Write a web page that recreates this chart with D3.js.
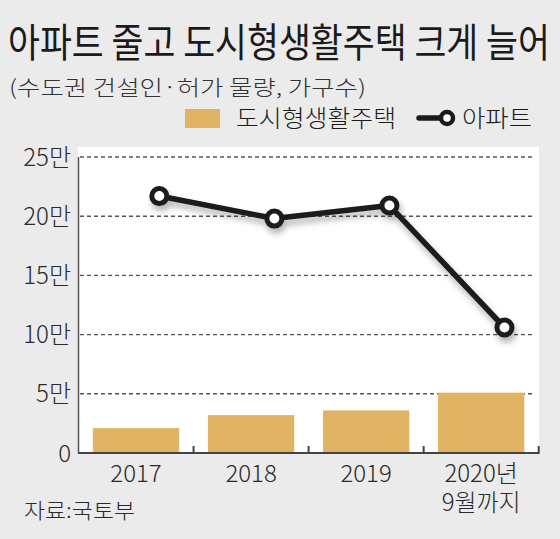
<!DOCTYPE html>
<html>
<head>
<meta charset="utf-8">
<script src="https://cdn.jsdelivr.net/npm/d3@7"></script>
<style>
  html, body { margin: 0; padding: 0; background: #ebebeb; }
  svg { display: block; font-family: "Noto Sans CJK KR", "Noto Sans", sans-serif; }
</style>
</head>
<body>
<script>
// values in 만 가구 (10,000 units)
var categories = ["2017", "2018", "2019", "2020"];
var categoryLabels = [["2017"], ["2018"], ["2019"], ["2020년", "9월까지"]];
var urbanHousing = [2.1, 3.2, 3.6, 5.1];   // 도시형생활주택 (bars)
var apartments = [21.7, 19.8, 20.9, 10.6]; // 아파트 (line)
var yTicks = [0, 5, 10, 15, 20, 25];
var yTickLabels = ["0", "5만", "10만", "15만", "20만", "25만"];

var width = 560, height = 539;
var barColor = "#e0b464", ink = "#1c1a1a";

var svg = d3.select("body").append("svg")
    .attr("width", width)
    .attr("height", height);

var defs = svg.append("defs");
var shadow = defs.append("filter")
    .attr("id", "shadow")
    .attr("x", "-20%").attr("y", "-20%")
    .attr("width", "140%").attr("height", "160%");
shadow.append("feDropShadow")
    .attr("dx", 2).attr("dy", 5)
    .attr("stdDeviation", 3)
    .attr("flood-color", "#000")
    .attr("flood-opacity", 0.3);

// title + subtitle (font is condensed in the original, so squeeze horizontally)
svg.append("text")
    .attr("transform", "translate(8,57) scale(0.81,1)")
    .attr("font-size", 40)
    .attr("fill", ink)
    .attr("textLength", 669)
    .attr("lengthAdjust", "spacingAndGlyphs")
    .text("아파트 줄고 도시형생활주택 크게 늘어");

svg.append("text")
    .attr("x", 9).attr("y", 95)
    .attr("font-size", 21)
    .attr("font-weight", 300)
    .attr("fill", "#333")
    .attr("textLength", 357)
    .attr("lengthAdjust", "spacingAndGlyphs")
    .text("(수도권 건설인·허가 물량, 가구수)");

// scales
var x = d3.scaleBand()
    .domain(categories)
    .range([78.5, 538.7])
    .paddingInner(0.25)
    .paddingOuter(0.125);

var y = d3.scaleLinear()
    .domain([0, 25])
    .range([453, 157]);

function lineX(c) { return x(c) + x.bandwidth() * 0.77; }

// white plot panel
svg.append("rect")
    .attr("x", 78).attr("y", 147)
    .attr("width", 461).attr("height", 306)
    .attr("fill", "#fff");

// dashed gridlines
svg.append("g")
    .selectAll("line")
    .data(yTicks.filter(function(d) { return d > 0; }))
    .enter().append("line")
    .attr("x1", 80).attr("x2", 534)
    .attr("y1", function(d) { return y(d); })
    .attr("y2", function(d) { return y(d); })
    .attr("stroke", "#555")
    .attr("stroke-width", 1.4)
    .attr("stroke-dasharray", "4,3");

// y tick labels
svg.append("g")
    .selectAll("text")
    .data(yTicks)
    .enter().append("text")
    .attr("x", 71)
    .attr("y", function(d) { return y(d); })
    .attr("dy", "0.36em")
    .attr("text-anchor", "end")
    .attr("font-size", 24)
    .attr("font-weight", 300)
    .attr("fill", "#2a2a2a")
    .text(function(d, i) { return yTickLabels[i]; });

// bars
svg.append("g")
    .selectAll("rect")
    .data(urbanHousing)
    .enter().append("rect")
    .attr("x", function(d, i) { return x(categories[i]); })
    .attr("y", function(d) { return y(d); })
    .attr("width", x.bandwidth())
    .attr("height", function(d) { return y(0) - y(d); })
    .attr("fill", barColor);

// axes lines
svg.append("line")
    .attr("x1", 78.5).attr("x2", 78.5)
    .attr("y1", 157).attr("y2", 453)
    .attr("stroke", "#555")
    .attr("stroke-width", 1.5);

svg.append("line")
    .attr("x1", 78).attr("x2", 539.5)
    .attr("y1", 453).attr("y2", 453)
    .attr("stroke", "#444")
    .attr("stroke-width", 2);

// x ticks at band boundaries (upward)
svg.append("g")
    .selectAll("line")
    .data(categories)
    .enter().append("line")
    .attr("x1", function(c) { return x(c) + x.step() * 0.875; })
    .attr("x2", function(c) { return x(c) + x.step() * 0.875; })
    .attr("y1", 453).attr("y2", 446)
    .attr("stroke", "#444")
    .attr("stroke-width", 2);

// x labels, one text per line
categories.forEach(function(c, i) {
    svg.append("g")
        .selectAll("text")
        .data(categoryLabels[i])
        .enter().append("text")
        .attr("x", x(c) + x.bandwidth() / 2)
        .attr("y", function(s, j) { return 482 + j * 29; })
        .attr("text-anchor", "middle")
        .attr("font-size", 24)
        .attr("font-weight", 300)
        .attr("fill", "#2a2a2a")
        .text(function(s) { return s; });
});

// apartment line
var line = d3.line()
    .x(function(d, i) { return lineX(categories[i]); })
    .y(function(d) { return y(d); });

var lineG = svg.append("g").attr("filter", "url(#shadow)");
lineG.append("path")
    .datum(apartments)
    .attr("d", line)
    .attr("fill", "none")
    .attr("stroke", ink)
    .attr("stroke-width", 5.5)
    .attr("stroke-linejoin", "round");

lineG.selectAll("circle")
    .data(apartments)
    .enter().append("circle")
    .attr("cx", function(d, i) { return lineX(categories[i]); })
    .attr("cy", function(d) { return y(d); })
    .attr("r", 7.5)
    .attr("fill", "#fff")
    .attr("stroke", ink)
    .attr("stroke-width", 5);

// legend
var legend = svg.append("g");
legend.append("rect")
    .attr("x", 185).attr("y", 109)
    .attr("width", 35).attr("height", 19)
    .attr("fill", barColor);
legend.append("text")
    .attr("x", 236).attr("y", 127)
    .attr("font-size", 24)
    .attr("font-weight", 300)
    .attr("fill", ink)
    .attr("textLength", 160)
    .attr("lengthAdjust", "spacingAndGlyphs")
    .text("도시형생활주택");
legend.append("line")
    .attr("x1", 419).attr("x2", 446)
    .attr("y1", 118).attr("y2", 118)
    .attr("stroke", ink)
    .attr("stroke-width", 5.5)
    .attr("stroke-linecap", "round");
legend.append("circle")
    .attr("cx", 447).attr("cy", 118)
    .attr("r", 6)
    .attr("fill", "#fff")
    .attr("stroke", ink)
    .attr("stroke-width", 4.5);
legend.append("text")
    .attr("x", 462).attr("y", 127)
    .attr("font-size", 24)
    .attr("font-weight", 300)
    .attr("fill", ink)
    .attr("textLength", 70)
    .attr("lengthAdjust", "spacingAndGlyphs")
    .text("아파트");

// source
svg.append("text")
    .attr("x", 24).attr("y", 518)
    .attr("font-size", 21)
    .attr("font-weight", 300)
    .attr("fill", "#2a2a2a")
    .attr("textLength", 111)
    .attr("lengthAdjust", "spacingAndGlyphs")
    .text("자료:국토부");
</script>
</body>
</html>
